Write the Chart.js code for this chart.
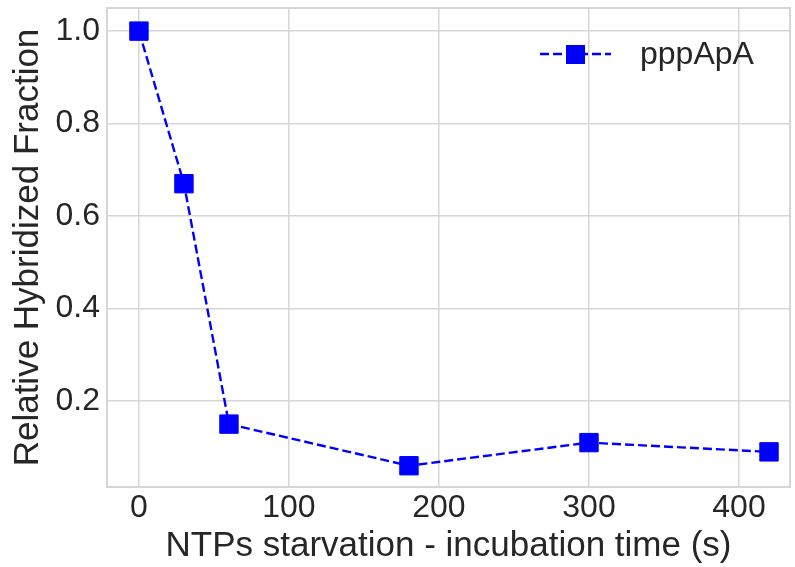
<!DOCTYPE html>
<html>
<head>
<meta charset="utf-8">
<script src="https://cdn.jsdelivr.net/npm/chart.js@4"></script>
<style>
  html, body { margin: 0; padding: 0; background: #fff; }
  #wrap { width: 795px; height: 567px; }
</style>
</head>
<body>
<div id="wrap"><canvas id="chart"></canvas></div>
<script>
// ---- data ----
const timeSec = [0, 30, 60, 180, 300, 420];
const fraction = [1.0, 0.67, 0.15, 0.06, 0.11, 0.09];
const xTicks = [0, 100, 200, 300, 400];
const yTicks = [0.2, 0.4, 0.6, 0.8, 1.0];
const seriesName = "pppApA";

const FONT = "'Liberation Sans', Arial, sans-serif";
const TXT = "#262626";
const GRID = "#d6d6d6";
const DASH = [9, 4];

// legend drawn by hand (line + marker + label, matplotlib style)
const legendPlugin = {
  id: "mplLegend",
  afterDraw(chart) {
    const ctx = chart.ctx;
    const y = 54;
    ctx.save();
    ctx.strokeStyle = "blue";
    ctx.lineWidth = 2.4;
    ctx.setLineDash(DASH);
    ctx.beginPath();
    ctx.moveTo(540, y);
    ctx.lineTo(611, y);
    ctx.stroke();
    ctx.setLineDash([]);
    ctx.fillStyle = "blue";
    ctx.fillRect(566, y - 9, 19, 19);
    ctx.fillStyle = TXT;
    ctx.font = "32px " + FONT;
    ctx.textBaseline = "middle";
    ctx.fillText(seriesName, 640, y + 1);
    ctx.restore();
  }
};

// full frame around the plot area (the library only draws left/bottom borders)
const framePlugin = {
  id: "frame",
  beforeDatasetsDraw(chart) {
    const { ctx, chartArea: a } = chart;
    ctx.save();
    ctx.strokeStyle = GRID;
    ctx.lineWidth = 2;
    ctx.strokeRect(a.left, a.top, a.right - a.left, a.bottom - a.top);
    ctx.restore();
  }
};

new Chart(document.getElementById("chart"), {
  type: "line",
  data: {
    datasets: [{
      label: seriesName,
      data: timeSec.map((t, i) => ({ x: t, y: fraction[i] })),
      borderColor: "blue",
      backgroundColor: "blue",
      borderWidth: 2.4,
      borderDash: DASH,
      pointStyle: "rect",
      pointRadius: 13,
      pointHoverRadius: 13,
      pointBorderWidth: 1,
      tension: 0,
      clip: false
    }]
  },
  options: {
    responsive: true,
    maintainAspectRatio: false,
    animation: false,
    layout: { autoPadding: false, padding: { top: 8, right: 5, left: 0, bottom: 0 } },
    plugins: { legend: { display: false }, tooltip: { enabled: false } },
    scales: {
      x: {
        type: "linear",
        min: -21.3,
        max: 434,
        afterBuildTicks: s => { s.ticks = xTicks.map(v => ({ value: v })); },
        ticks: { color: TXT, font: { family: FONT, size: 32 }, padding: 2 },
        grid: { color: GRID, lineWidth: 1.5, drawTicks: false },
        border: { color: GRID, width: 2 },
        title: { display: true, text: "NTPs starvation - incubation time (s)", color: TXT, font: { family: FONT, size: 35 }, padding: { top: 0, bottom: 0 } },
        afterFit: s => { s.height = 80; s.paddingLeft = 0; s.paddingRight = 0; }
      },
      y: {
        min: 0.014,
        max: 1.05,
        afterBuildTicks: s => { s.ticks = yTicks.map(v => ({ value: v })); },
        ticks: { color: TXT, font: { family: FONT, size: 32 }, padding: 7, callback: v => v.toFixed(1) },
        grid: { color: GRID, lineWidth: 1.5, drawTicks: false },
        border: { color: GRID, width: 2 },
        title: { display: true, text: "Relative Hybridized Fraction", color: TXT, font: { family: FONT, size: 35 }, padding: { top: 7, bottom: 0 } },
        afterFit: s => { s.width = 107; s.paddingTop = 0; s.paddingBottom = 0; }
      }
    }
  },
  plugins: [legendPlugin, framePlugin]
});
</script>
</body>
</html>
